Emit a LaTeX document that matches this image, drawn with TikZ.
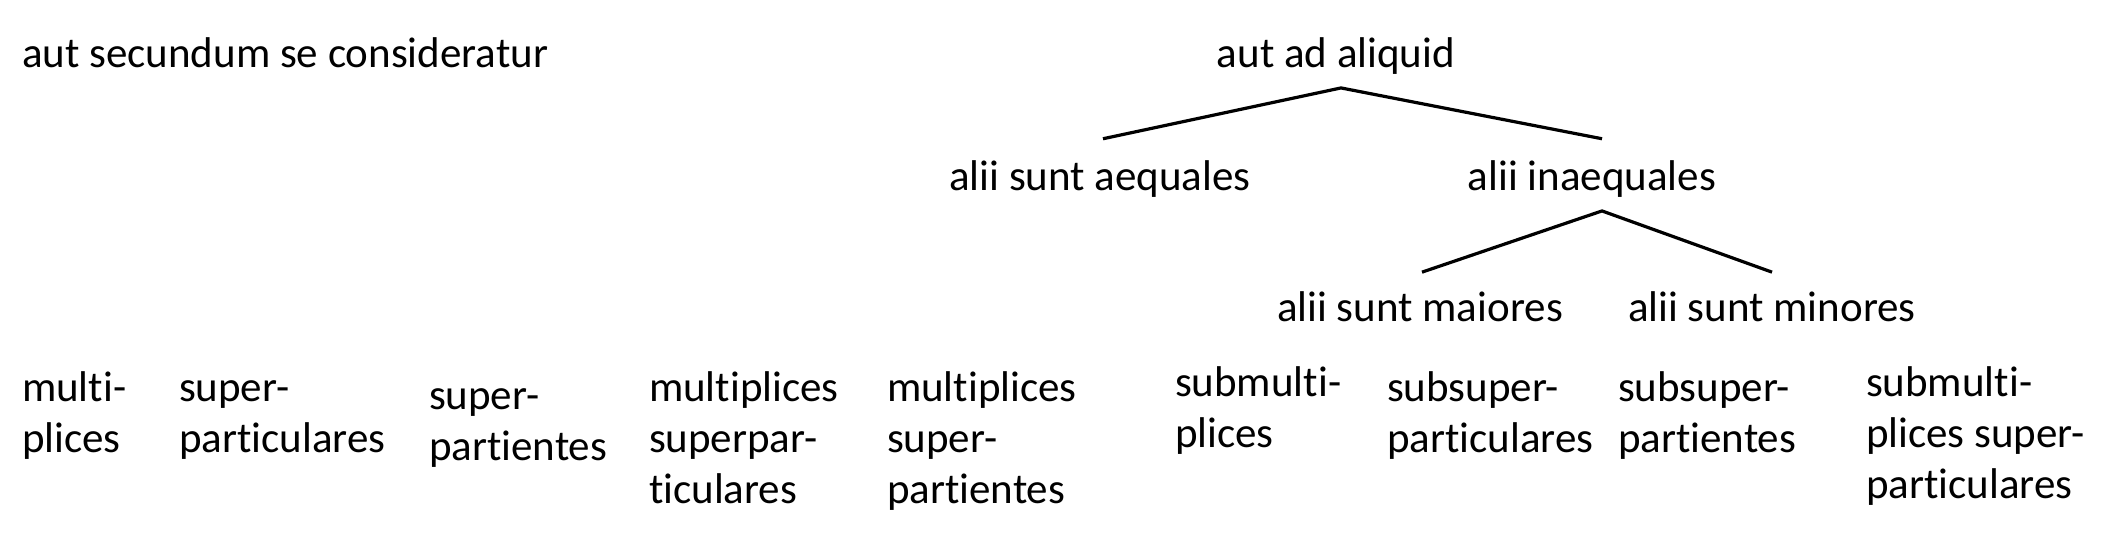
\documentclass[tikz,border=0pt]{standalone}
\usepackage{fontspec}
\setmainfont{Carlito}[Ligatures=NoCommon]
\newcommand\stk[1]{\begin{tabular}[t]{@{}l@{}}#1\end{tabular}}
\begin{document}
\begin{tikzpicture}[x=0.5pt,y=-0.5pt,
  lbl/.style={inner sep=0pt,outer sep=0pt,font=\fontsize{21.5}{25.5}\selectfont},
  lft/.style={lbl,anchor=base west},
  ctr/.style={lbl,anchor=base},
  branch/.style={line width=1.6pt}]
\useasboundingbox (0,0) rectangle (2116,532);
\node[lft] (sec) at (22,67) {aut secundum se consideratur};
\node[ctr] (ali) at (1336,67) {aut ad aliquid};
\node[ctr] (aeq) at (1100,190) {alii sunt aequales};
\node[ctr] (ina) at (1592,190) {alii inaequales};
\node[ctr] (mai) at (1420,321) {alii sunt maiores};
\node[ctr] (min) at (1772,321) {alii sunt minores};
\draw[branch] ([xshift=1.5pt,yshift=10.7pt]aeq.north) -- ([xshift=2.5pt,yshift=-7pt]ali.south) -- ([xshift=5pt,yshift=10.7pt]ina.north);
\draw[branch] ([xshift=1pt,yshift=9.5pt]mai.north) -- ([xshift=5pt,yshift=-7pt]ina.south) -- ([yshift=9.5pt]min.north);
\node[lft] (b1) at (22,401) {\stk{multi-\\plices}};
\node[lft] (b2) at (179,401) {\stk{super-\\particulares}};
\node[lft] (b3) at (429,409) {\stk{super-\\partientes}};
\node[lft] (b4) at (649,401) {\stk{multiplices\\superpar-\\ticulares}};
\node[lft] (b5) at (887,401) {\stk{multiplices\\super-\\partientes}};
\node[lft] (b6) at (1175,396) {\stk{submulti-\\plices}};
\node[lft] (b7) at (1387,401) {\stk{subsuper-\\particulares}};
\node[lft] (b8) at (1618,401) {\stk{subsuper-\\partientes}};
\node[lft] (b9) at (1866,396) {\stk{submulti-\\plices super-\\particulares}};
\end{tikzpicture}
\end{document}
